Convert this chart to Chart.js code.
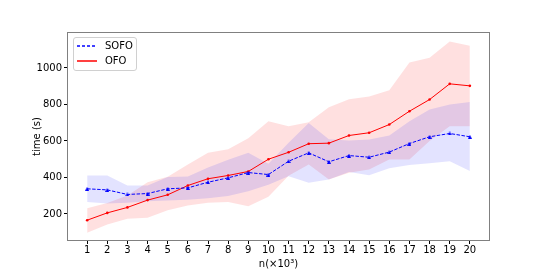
<!DOCTYPE html>
<html>
<head>
<meta charset="utf-8">
<script src="https://cdn.jsdelivr.net/npm/chart.js@4.4.1/dist/chart.umd.min.js"></script>
<style>
  html, body { margin: 0; padding: 0; background: #fff; }
  #wrap { position: relative; width: 545px; height: 273px; }
  #legend {
    position: absolute; left: 73px; top: 37px; width: 62px; height: 32px;
    border: 1px solid #d0d0d0; border-radius: 3px; background: rgba(255,255,255,0.8);
    font: 10px "DejaVu Sans", sans-serif; color: #000;
  }
  .row { position: absolute; left: 0; width: 60px; height: 14px; line-height: 14px; }
  .row .swatch { position: absolute; left: 3px; top: 6px; width: 20px; height: 2px; }
  .row span { position: absolute; left: 31px; top: 0; white-space: nowrap; }
</style>
</head>
<body>
<div id="wrap">
  <canvas id="chart" width="545" height="273"></canvas>
  <div id="legend"></div>
</div>
<script>
const nValues = [1, 2, 3, 4, 5, 6, 7, 8, 9, 10, 11, 12, 13, 14, 15, 16, 17, 18, 19, 20];
const yTicks = [200, 400, 600, 800, 1000];

// SOFO (blue, dashed)
const sofoMean  = [338, 332, 307, 312, 338, 343, 374, 398, 427, 416, 489, 535, 486, 520, 511, 539, 586, 623, 641, 623];
const sofoUpper = [411, 411, 356, 356, 402, 405, 455, 497, 535, 475, 590, 698, 610, 602, 608, 630, 708, 773, 800, 813];
const sofoLower = [265, 258, 261, 270, 274, 278, 286, 298, 325, 360, 407, 371, 389, 430, 412, 450, 468, 478, 489, 435];

// OFO (red, solid)
const ofoMean  = [166, 206, 236, 276, 305, 356, 393, 411, 433, 500, 538, 585, 588, 630, 645, 690, 763, 827, 913, 902];
const ofoUpper = [232, 260, 301, 374, 404, 471, 535, 555, 615, 708, 681, 703, 785, 828, 843, 878, 1030, 1056, 1145, 1121];
const ofoLower = [97, 142, 174, 179, 221, 247, 261, 265, 243, 295, 410, 471, 389, 426, 444, 499, 499, 600, 681, 681];

const FONT = "DejaVu Sans";
const pts = (ys) => nValues.map((n, i) => ({ x: n, y: ys[i] }));

// small triangle marker for SOFO
function triangle(w, h, color) {
  const c = document.createElement("canvas");
  c.width = w; c.height = h;
  const g = c.getContext("2d");
  g.fillStyle = color;
  g.beginPath();
  g.moveTo(w / 2, 0);
  g.lineTo(w, h);
  g.lineTo(0, h);
  g.closePath();
  g.fill();
  return c;
}

const frame = {
  id: "frame",
  afterDatasetsDraw(chart) {
    const { ctx, chartArea: a } = chart;
    ctx.save();
    ctx.strokeStyle = "#808080";
    ctx.lineWidth = 1;
    ctx.strokeRect(Math.round(a.left) + 0.5, Math.round(a.top) + 0.5, Math.round(a.right - a.left) - 1, Math.round(a.bottom - a.top) - 1);
    ctx.restore();
  },
};

const band = (data, fill, color) => ({
  data, fill, backgroundColor: color, borderWidth: 0, pointRadius: 0, order: 2, tension: 0,
});

new Chart(document.getElementById("chart"), {
  type: "line",
  data: {
    datasets: [
      { label: "SOFO", data: pts(sofoMean), borderColor: "#0000ff", borderWidth: 1, borderDash: [3.5, 1.5],
        pointStyle: triangle(4, 4, "#0000ff"), pointRadius: 2, fill: false, order: 0 },
      { label: "OFO", data: pts(ofoMean), borderColor: "#ff0000", borderWidth: 1,
        pointBackgroundColor: "#ff0000", pointBorderWidth: 0, pointRadius: 1.3, fill: false, order: 0 },
      band(pts(sofoUpper), "+1", "rgba(0,0,255,0.11)"),
      band(pts(sofoLower), false, "rgba(0,0,255,0.11)"),
      band(pts(ofoUpper), "+1", "rgba(255,0,0,0.12)"),
      band(pts(ofoLower), false, "rgba(255,0,0,0.12)"),
    ],
  },
  options: {
    responsive: false,
    animation: false,
    layout: { padding: { left: 0, right: 55, top: 32, bottom: 0 } },
    plugins: { legend: { display: false }, tooltip: { enabled: false } },
    scales: {
      x: {
        type: "linear",
        min: 0,
        max: 21,
        afterBuildTicks: (s) => { s.ticks = nValues.map((v) => ({ value: v })); },
        afterFit: (s) => { s.height = 32; },
        border: { display: false },
        grid: { drawOnChartArea: false, drawTicks: true, tickLength: 3, color: "#000" },
        ticks: { autoSkip: false, maxRotation: 0, padding: 0, color: "#000", font: { family: FONT, size: 10 },
          callback: (v) => String(v) },
        title: { display: true, text: "n(×10³)", color: "#000", font: { family: FONT, size: 10 }, padding: { top: 0, bottom: 3 } },
      },
      y: {
        min: 52,
        max: 1197,
        afterBuildTicks: (s) => { s.ticks = yTicks.map((v) => ({ value: v })); },
        afterFit: (s) => { s.width = 67; },
        border: { display: false },
        grid: { drawOnChartArea: false, drawTicks: true, tickLength: 3, color: "#000" },
        ticks: { padding: 2, color: "#000", font: { family: FONT, size: 10 }, callback: (v) => String(v) },
        title: { display: true, text: "time (s)", color: "#000", font: { family: FONT, size: 10 }, padding: { top: 31, bottom: 0 } },
      },
    },
  },
  plugins: [frame],
});

// legend box
const legendItems = [
  { label: "SOFO", bg: "repeating-linear-gradient(to right, rgba(0,0,255,0.75) 0 3.5px, transparent 3.5px 5px)" },
  { label: "OFO", bg: "rgba(255,0,0,0.75)" },
];
const legend = document.getElementById("legend");
legendItems.forEach((item, i) => {
  const row = document.createElement("div");
  row.className = "row";
  row.style.top = (1 + i * 15) + "px";
  const sw = document.createElement("div");
  sw.className = "swatch";
  sw.style.background = item.bg;
  const txt = document.createElement("span");
  txt.textContent = item.label;
  row.appendChild(sw);
  row.appendChild(txt);
  legend.appendChild(row);
});
</script>
</body>
</html>
